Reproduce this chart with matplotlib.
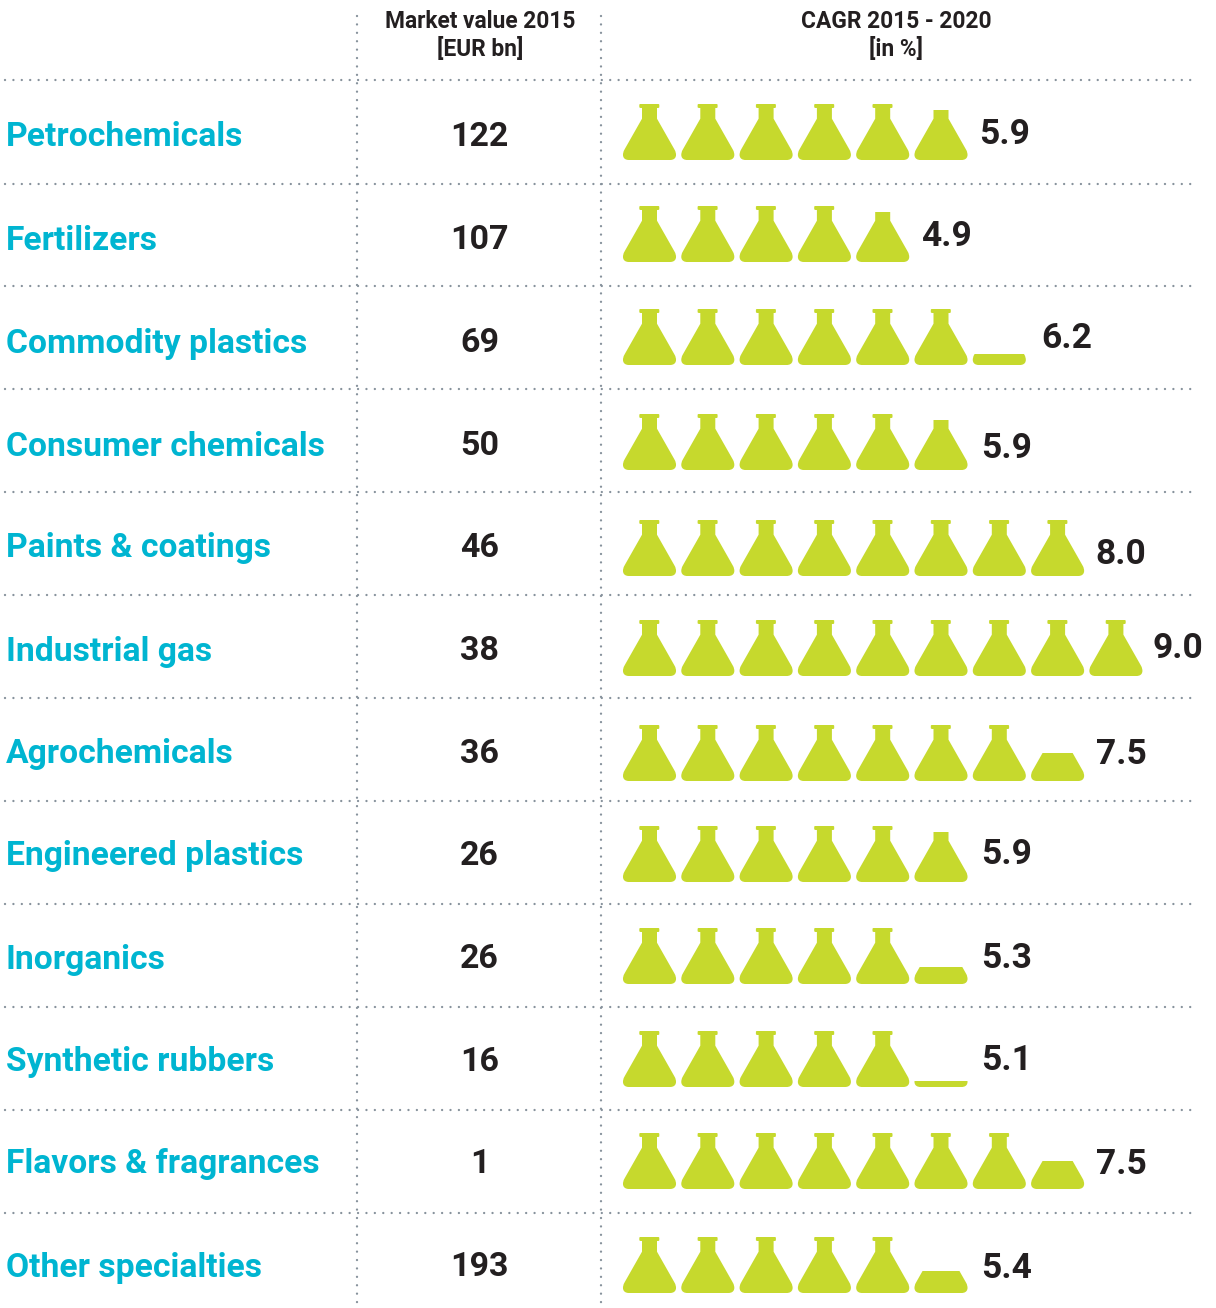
import matplotlib
matplotlib.use('Agg')
import matplotlib.pyplot as plt
from matplotlib.patches import PathPatch, Rectangle
from matplotlib.path import Path

categories = ["Petrochemicals", "Fertilizers", "Commodity plastics", "Consumer chemicals",
              "Paints & coatings", "Industrial gas", "Agrochemicals", "Engineered plastics",
              "Inorganics", "Synthetic rubbers", "Flavors & fragrances", "Other specialties"]
market_value = [122, 107, 69, 50, 46, 38, 36, 26, 26, 16, 1, 193]
cagr = [5.9, 4.9, 6.2, 5.9, 8.0, 9.0, 7.5, 5.9, 5.3, 5.1, 7.5, 5.4]

# layout, in reference pixels
row_lines = [80, 184, 286, 389, 492, 595, 698, 801, 904, 1007, 1110, 1213]
cat_y = [137.5, 240.5, 343.5, 446.5, 548.5, 651.5, 754.5, 856.5, 959.5, 1062.5, 1164.5, 1267.5]
flask_bottom = [160, 262, 365, 470, 576, 676, 781, 882, 984, 1087, 1189, 1293]
cagr_x = [979, 921, 1041, 981, 1095, 1152, 1096, 981, 981, 981, 1096, 981]
cagr_y = [134, 236, 338, 449, 554, 649, 754, 854, 958, 1061, 1165, 1268]

GREEN = "#c6d92d"
CYAN = "#00b5d1"
DARK = "#231f20"
DOT = "#87929c"
FONT = "Roboto"

plt.rcParams['font.family'] = [FONT, 'DejaVu Sans']

FLASK_W = 53.0
FLASK_H = 56.0
FLASK_STEP = 58.3
FLASK_X0 = 623


def flask_path(x, bottom):
    top = bottom - FLASK_H
    pts = [
        (16.3, 1), (16.3, 0), (17.3, 0), (35.3, 0), (36.3, 0), (36.3, 1), (36.3, 3), (36.3, 4), (35, 4),
        (34, 4), (34, 14.7), (51.2, 45), (54.5, 50.5), (53.5, 56), (47, 56),
        (6, 56), (-0.5, 56), (-1.5, 50.5), (1.8, 45), (19, 14.7), (19, 4),
        (18, 4), (16.3, 4), (16.3, 3), (16.3, 1),
    ]
    codes = [Path.MOVETO, Path.CURVE3, Path.CURVE3, Path.LINETO, Path.CURVE3, Path.CURVE3,
             Path.LINETO, Path.CURVE3, Path.CURVE3,
             Path.LINETO, Path.LINETO, Path.LINETO, Path.CURVE4, Path.CURVE4, Path.CURVE4,
             Path.LINETO, Path.CURVE4, Path.CURVE4, Path.CURVE4, Path.LINETO, Path.LINETO,
             Path.LINETO, Path.CURVE3, Path.CURVE3, Path.CLOSEPOLY]
    return Path([(x + px, top + py) for px, py in pts], codes)


fig = plt.figure(figsize=(12.16, 13.08), dpi=100)
ax = fig.add_axes([0, 0, 1, 1])
ax.set_xlim(0, 1216)
ax.set_ylim(1308, 0)
ax.axis('off')

dots = (0, (0.01, 3.55))
for y in row_lines:
    ax.plot([5, 1194], [y, y], color=DOT, lw=1.7, linestyle=dots, dash_capstyle='round')
for x in [357, 601]:
    ax.plot([x, x], [16, 1308], color=DOT, lw=1.7, linestyle=dots, dash_capstyle='round')

ax.text(480, 22, "Market value 2015", ha='center', va='center', fontsize=16.4, fontweight='bold', color=DARK)
ax.text(480, 49, "[EUR bn]", ha='center', va='center', fontsize=16.4, fontweight='bold', color=DARK)
ax.text(896, 22, "CAGR 2015 - 2020", ha='center', va='center', fontsize=16.4, fontweight='bold', color=DARK)
ax.text(896, 49, "[in %]", ha='center', va='center', fontsize=16.4, fontweight='bold', color=DARK)

for i, name in enumerate(categories):
    ax.text(6, cat_y[i], name, ha='left', va='center', fontsize=24.2, fontweight='bold', color=CYAN)
    ax.text(479.5, cat_y[i] - 0.5, str(market_value[i]), ha='center', va='center', fontsize=24.5, fontweight='bold', color=DARK)
    ax.text(cagr_x[i], cagr_y[i], "%.1f" % cagr[i], ha='left', va='center', fontsize=25.5, fontweight='bold', color=DARK)

    # one flask per percentage point, the last one cut off at the remainder
    val = cagr[i]
    k = 0
    while val > 0.001:
        frac = min(val, 1.0)
        x = FLASK_X0 + k * FLASK_STEP
        bottom = flask_bottom[i]
        patch = PathPatch(flask_path(x, bottom), facecolor=GREEN, edgecolor='none')
        ax.add_patch(patch)
        if frac < 1.0:
            clip = Rectangle((x - 2, bottom - FLASK_H * frac), FLASK_W + 4, FLASK_H * frac, transform=ax.transData)
            patch.set_clip_path(clip)
        val -= frac
        k += 1

fig.savefig("out.png", dpi=100)
